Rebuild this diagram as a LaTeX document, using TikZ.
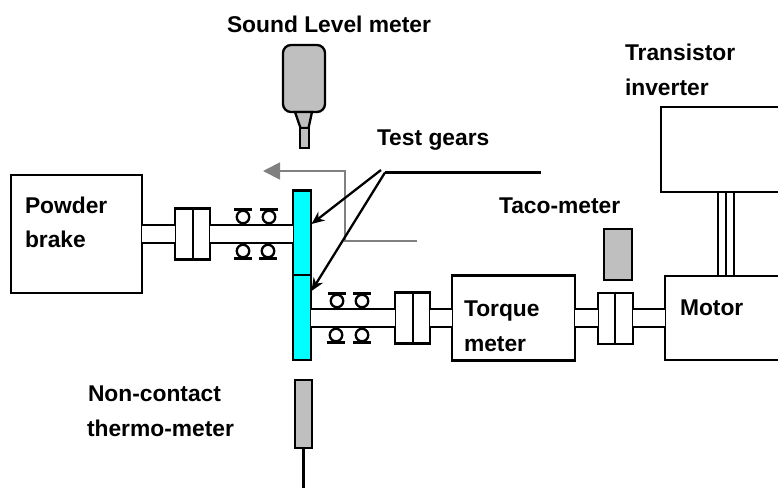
\documentclass[tikz,border=0pt]{standalone}
\usepackage{fontspec}
\setmainfont{Liberation Sans}
\usetikzlibrary{arrows.meta}
\definecolor{geargrey}{HTML}{BFBFBF}
\definecolor{arrowgrey}{HTML}{808080}
\definecolor{gearcyan}{HTML}{00FFFF}
\tikzset{
  box/.style={draw=black,line width=2.3pt,fill=white,inner sep=0pt,outer sep=0pt},
  greybox/.style={box,fill=geargrey},
  gear/.style={box,fill=gearcyan,minimum width=18pt,minimum height=85pt},
  coupling/.style={box,minimum width=17.5pt,minimum height=51pt},
  shaft/.style={line width=2.3pt,double=white,double distance=15.5pt,line cap=butt},
  ball/.style={circle,draw=black,line width=2.3pt,fill=white,minimum size=12.5pt,inner sep=0pt,outer sep=0pt},
  bar/.style={fill=black,minimum width=18pt,minimum height=2.6pt,inner sep=0pt,outer sep=0pt},
  lbl/.style={font=\fontsize{22.8}{26}\selectfont\bfseries,anchor=base west,inner sep=0pt,outer sep=0pt},
  pointer/.style={line width=2.3pt,-{Stealth[length=13pt,width=11pt]}},
  wire/.style={line width=2.3pt},
  greyarrow/.style={draw=arrowgrey,line width=1.8pt,-{Triangle[length=17pt,width=17pt]}}
}
\begin{document}
\begin{tikzpicture}[x=1pt,y=-1pt]
\clip (0,0) rectangle (778,488);
% main boxes
\node[box,minimum width=131pt,minimum height=118pt] (brake) at (76.5,234) {};
\node[box,minimum width=123pt,minimum height=85pt] (torque) at (513.5,318) {};
\node[box,minimum width=160pt,minimum height=84pt] (motor) at (745,318) {};
\node[box,minimum width=160pt,minimum height=85pt] (inverter) at (741,149.5) {};
% couplings
\node[coupling] (c1a) at (184,234) {};
\node[coupling] (c1b) at (201.5,234) {};
\node[coupling] (c2a) at (404,318) {};
\node[coupling] (c2b) at (421.5,318) {};
\node[coupling] (c3a) at (606.5,318.5) {};
\node[coupling] (c3b) at (624,318.5) {};
% gears
\node[gear] (gearU) at (302,233) {};
\node[gear] (gearL) at (302,317.5) {};
% shafts
\draw[shaft] (brake.east) -- (c1a.west);
\draw[shaft] (c1b.east) -- (c1b.east -| gearU.west);
\draw[shaft] (gearL.east |- c2a.west) -- (c2a.west);
\draw[shaft] (c2b.east) -- (torque.west);
\draw[shaft] (torque.east) -- (torque.east -| c3a.west);
\draw[shaft] (c3b.east |- motor.west) -- (motor.west);
% bearings
\foreach \n/\x/\y in {a/243/217,b/269/217,c/337/301,d/362/301}{
  \node[ball] (ball\n) at (\x,\y) {};
  \node[bar,anchor=south] (bar\n) at (ball\n.north) {};
}
\foreach \n/\x/\y in {e/243/251,f/268/251,g/336/335,h/362/335}{
  \node[ball] (ball\n) at (\x,\y) {};
  \node[bar,anchor=north] (bar\n) at (ball\n.south) {};
}
% inverter-to-motor wires
\foreach \x in {718,726,734}{
  \coordinate (wt\x) at (\x,192);
  \draw[wire] (wt\x) -- (wt\x |- motor.north);
}
% tachometer
\node[greybox,minimum width=28pt,minimum height=51pt] (taco) at (618,254.5) {};
% sound level meter
\node[greybox,rounded corners=8pt,minimum width=42pt,minimum height=67pt] (sound) at (304,78.5) {};
\draw[line width=2.3pt,fill=geargrey] (295,112) -- (312,112) -- (308.5,128) -- (300.5,128) -- cycle;
\node[greybox,minimum width=8.5pt,minimum height=20pt] (probe) at (304.5,138) {};
% thermometer
\node[greybox,minimum width=17pt,minimum height=68pt] (thermo) at (303.5,414) {};
\coordinate (thermoEnd) at (303.5,488);
\draw[wire] (thermo.south) -- (thermoEnd);
% grey arrow
\coordinate (gs) at (417,241);
\coordinate (gm) at (345,241);
\coordinate (gn) at (345,171);
\coordinate (ge) at (263,171);
\draw[greyarrow] (gs) -- (gm) -- (gn) -- (ge);
% pointers
\coordinate (lead) at (385,172.5);
\coordinate (leadEnd) at (541,172.5);
\draw[wire] (lead) -- (leadEnd);
\coordinate (tipU) at (311.5,224);
\coordinate (tipL) at (311.5,291);
\draw[pointer] (381,170) -- (tipU);
\draw[pointer] (lead) -- (tipL);
% labels
\node[lbl] (tSound) at (227,32) {Sound Level meter};
\node[lbl] (tTrans) at (625,60) {Transistor};
\node[lbl] (tInv) at (625,95) {inverter};
\node[lbl] (tTest) at (377,145) {Test gears};
\node[lbl] (tTaco) at (499,213) {Taco-meter};
\node[lbl] (tPow) at (25,213) {Powder};
\node[lbl] (tBr) at (25,247) {brake};
\node[lbl] (tTq) at (464,316) {Torque};
\node[lbl] (tMe) at (464,351) {meter};
\node[lbl] (tMo) at (680,315) {Motor};
\node[lbl] (tNc) at (88,401) {Non-contact};
\node[lbl] (tTh) at (87,436) {thermo-meter};
\end{tikzpicture}
\end{document}
